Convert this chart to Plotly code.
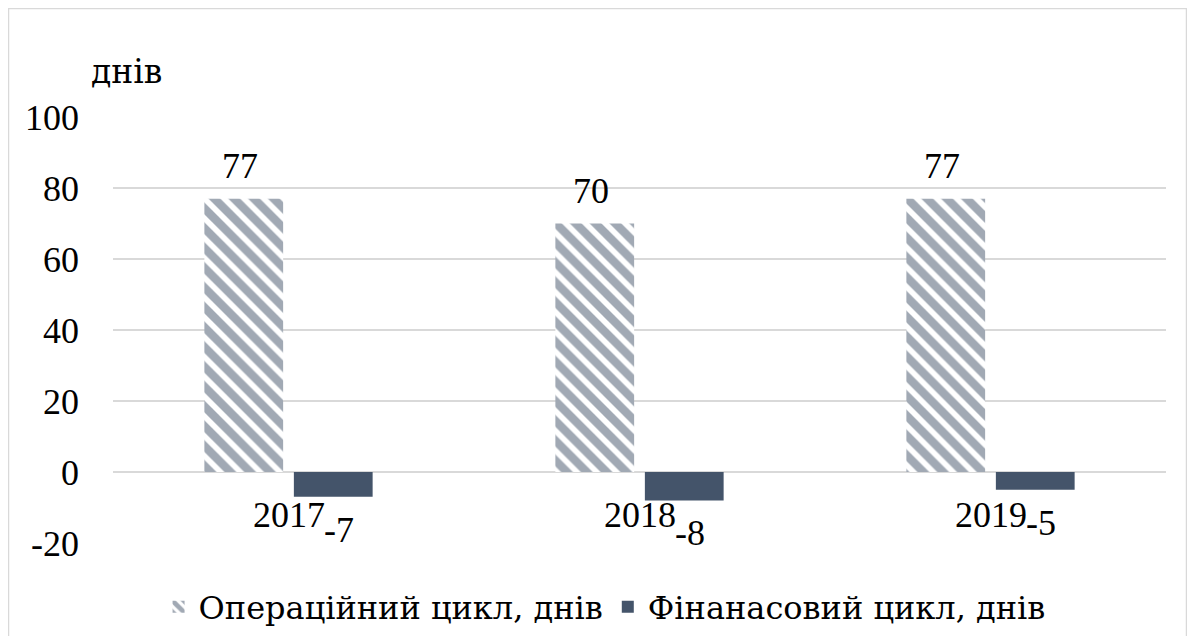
import plotly.graph_objects as go

# --- data ---
years = ["2017", "2018", "2019"]
operating_cycle = [77, 70, 77]
financial_cycle = [-7, -8, -5]
series_names = ["Операційний цикл, днів", "Фінанасовий цикл, днів"]
y_ticks = [-20, 0, 20, 40, 60, 80, 100]
y_tick_text = ["-20", "0", "20", "40", "60", "80", "100"]

BAR = "#44546A"
GRID = "#d9d9d9"
FONT = "Liberation Serif"
# Liberation Serif here has no Cyrillic, so Cyrillic text uses DejaVu Serif
FONT_CYR = "DejaVu Serif"

# the page has an 8px body margin, so the figure is kept inside it
W, H = 1179, 628
L, R, T, B = 105, 21, 109, 93
pw, ph = W - L - R, H - T - B


def px_x(x):
    return (x - L) / pw


def px_y(y):
    return (H - B - y) / ph


fig = go.Figure()
fig.add_trace(
    go.Bar(
        x=years,
        y=operating_cycle,
        name=series_names[0],
        marker=dict(
            color="white",
            line=dict(width=0),
            pattern=dict(shape="\\", fgcolor=BAR, bgcolor="white", size=14, solidity=0.6),
        ),
    )
)
fig.add_trace(
    go.Bar(
        x=years,
        y=financial_cycle,
        name=series_names[1],
        marker=dict(color=BAR, line=dict(width=0)),
    )
)

lab_font = dict(size=36, color="black", family=FONT)
annotations = []
# on a category axis the annotation x is the category index
for i, v in enumerate(operating_cycle):
    annotations.append(dict(x=i, y=v, xref="x", yref="y", text=str(v), showarrow=False,
                            xshift=-49, yshift=33, yanchor="middle", font=lab_font))
for i, v in enumerate(financial_cycle):
    annotations.append(dict(x=i, y=v, xref="x", yref="y", text=str(v), showarrow=False,
                            xshift=50, yshift=-33, yanchor="middle", font=lab_font))
# category labels sit just under the zero line
for i, yr in enumerate(years):
    annotations.append(dict(x=i, y=0, xref="x", yref="y", text=yr, showarrow=False,
                            yshift=-43, yanchor="middle", font=lab_font))
# axis unit
annotations.append(dict(x=px_x(156), y=px_y(64), xref="paper", yref="paper",
                        text="днів", showarrow=False, xanchor="right", yanchor="middle",
                        font=dict(size=33, color="black", family=FONT_CYR)))

# outer chart frame
fig.add_shape(type="rect", xref="paper", yref="paper",
              x0=px_x(0.5), x1=px_x(W - 0.5), y0=px_y(H + 20), y1=px_y(0.5),
              line=dict(color=GRID, width=1.5), fillcolor="rgba(0,0,0,0)", layer="below")

fig.update_layout(
    width=W,
    height=H,
    margin=dict(l=L, r=R, t=T, b=B),
    paper_bgcolor="white",
    plot_bgcolor="white",
    barmode="group",
    bargap=0.49,
    bargroupgap=0.12,
    font=dict(family=FONT, size=36, color="black"),
    showlegend=True,
    legend=dict(
        orientation="h",
        xref="container",
        x=0.506,
        xanchor="center",
        yref="container",
        y=1 - 599 / H,
        yanchor="middle",
        font=dict(size=32, family=FONT_CYR, color="black"),
        itemwidth=30,
        traceorder="normal",
    ),
    annotations=annotations,
    xaxis=dict(type="category", range=[-0.5, 2.5], showticklabels=False, showgrid=False,
               zeroline=False, showline=False, ticks=""),
    yaxis=dict(
        range=[-20, 100],
        tickvals=y_ticks,
        ticktext=y_tick_text,
        ticks="",
        showgrid=True,
        gridcolor=GRID,
        gridwidth=1.5,
        zeroline=True,
        zerolinecolor=GRID,
        zerolinewidth=1.5,
        showline=False,
        ticklabelstandoff=33,
        tickfont=lab_font,
    ),
)

fig.write_html("out.html")
